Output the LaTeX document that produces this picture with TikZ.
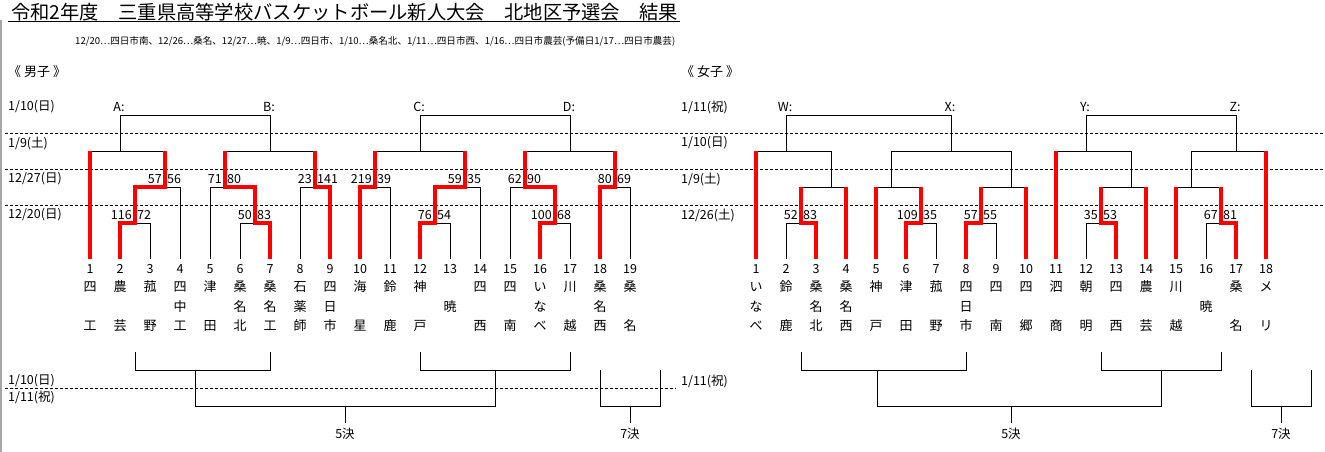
\documentclass[tikz,border=0pt]{standalone}
\usepackage{fontspec}
\setmainfont{Noto Sans CJK JP}
\begin{document}
\begin{tikzpicture}[x=1pt,y=-1pt,
  bk/.style={line width=1pt,black},
  rd/.style={line width=3.3pt,red,line join=miter},
  dsh/.style={line width=0.9pt,dash pattern=on 3pt off 2pt},
  t/.style={inner sep=0pt,font=\fontsize{12.5}{14}\selectfont},
  tc/.style={inner sep=0pt,font=\fontsize{13}{14}\selectfont},
  lab/.style={inner sep=0pt,anchor=west,font=\fontsize{12.5}{14}\selectfont}]
\useasboundingbox[fill=white] (0,0) rectangle (1325,452);
\draw[gray!70,line width=1.5pt] (0.75,20) -- (0.75,452);
% title
\node[inner sep=0pt,anchor=west,font=\fontsize{19.3}{21}\selectfont] (title) at (11,12) {令和2年度　三重県高等学校バスケットボール新人大会　北地区予選会　結果};
\draw[bk] (8,22) -- (680,22);
\node[inner sep=0pt,anchor=west] (sub) at (75,41) {\resizebox{600pt}{!}{\fontsize{9.6}{11}\selectfont 12/20…四日市南、12/26…桑名、12/27…暁、1/9…四日市、1/10…桑名北、1/11…四日市西、1/16…四日市農芸(予備日1/17…四日市農芸)}};
\node[lab,font=\fontsize{13}{14}\selectfont] (boys) at (8,72) {《 男子 》};
\node[lab,font=\fontsize{13}{14}\selectfont] (girls) at (681,72) {《 女子 》};
% date rows
\node[lab] (d1) at (8,107) {1/10(日)};
\node[lab] (d2) at (8,143) {1/9(土)};
\node[lab] (d3) at (8,179) {12/27(日)};
\node[lab] (d4) at (8,215) {12/20(日)};
\node[lab] (e1) at (681,107) {1/11(祝)};
\node[lab] (e2) at (681,143) {1/10(日)};
\node[lab] (e3) at (681,179) {1/9(土)};
\node[lab] (e4) at (681,215) {12/26(土)};
\foreach \yy in {133,169,205} \draw[dsh] (5,\yy) -- (1325,\yy);
% block labels
\node[t] (A) at (119,107) {A:};
\node[t] (B) at (269,107) {B:};
\node[t] (C) at (419,107) {C:};
\node[t] (D) at (569,107) {D:};
\node[t] (W) at (785,107) {W:};
\node[t] (X) at (950,107) {X:};
\node[t] (Y) at (1085,107) {Y:};
\node[t] (Z) at (1235,107) {Z:};
% men teams
\foreach \i/\a/\b/\c in {1/四/{}/工,2/農/{}/芸,3/菰/{}/野,4/四/中/工,5/津/{}/田,6/桑/名/北,7/桑/名/工,8/石/薬/師,9/四/日/市,10/海/{}/星,11/鈴/{}/鹿,12/神/{}/戸,13/{}/暁/{},14/四/{}/西,15/四/{}/南,16/い/な/べ,17/川/{}/越,18/桑/名/西,19/桑/{}/名}{
  \node[t] (mn\i) at ({60+30*\i},269) {\i};
  \node[tc] (ma\i) at ({60+30*\i},287) {\a};
  \node[tc] (mb\i) at ({60+30*\i},307) {\b};
  \node[tc] (mc\i) at ({60+30*\i},326) {\c};
}
% women teams
\foreach \i/\a/\b/\c in {1/い/な/べ,2/鈴/{}/鹿,3/桑/名/北,4/桑/名/西,5/神/{}/戸,6/津/{}/田,7/菰/{}/野,8/四/日/市,9/四/{}/南,10/四/{}/郷,11/泗/{}/商,12/朝/{}/明,13/四/{}/西,14/農/{}/芸,15/川/{}/越,16/{}/暁/{},17/桑/{}/名,18/メ/{}/リ}{
  \node[t] (wn\i) at ({726+30*\i},269) {\i};
  \node[tc] (wa\i) at ({726+30*\i},287) {\a};
  \node[tc] (wb\i) at ({726+30*\i},307) {\b};
  \node[tc] (wc\i) at ({726+30*\i},326) {\c};
}
% men black lines
\foreach \x in {150,240,450,570} \draw[bk] (\x,223) -- (\x,259);
\foreach \x in {180,210,300,390,480,510,630} \draw[bk] (\x,187) -- (\x,259);
\foreach \a/\b in {120/150,240/270,420/450,540/570} \draw[bk] (\a,223) -- (\b,223);
\foreach \a/\b in {135/180,210/255,300/330,360/390,435/480,510/555,600/630} \draw[bk] (\a,187) -- (\b,187);
\foreach \a/\b in {90/165,225/315,375/465,525/615} \draw[bk] (\a,151) -- (\b,151);
\foreach \x in {120,270,420,570} \draw[bk] (\x,151) -- (\x,115);
\draw[bk] (120,115) -- (270,115);
\draw[bk] (420,115) -- (570,115);
% men red lines
\draw[rd] (90,259) -- (90,151);
\draw[rd] (120,259) -- (120,223) -- (135,223) -- (135,187) -- (165,187) -- (165,151);
\draw[rd] (270,259) -- (270,223) -- (255,223) -- (255,187) -- (225,187) -- (225,151);
\draw[rd] (330,259) -- (330,187) -- (315,187) -- (315,151);
\draw[rd] (360,259) -- (360,187) -- (375,187) -- (375,151);
\draw[rd] (420,259) -- (420,223) -- (435,223) -- (435,187) -- (465,187) -- (465,151);
\draw[rd] (540,259) -- (540,223) -- (555,223) -- (555,187) -- (525,187) -- (525,151);
\draw[rd] (600,259) -- (600,187) -- (615,187) -- (615,151);
% men scores
\foreach \x/\yy/\l/\r in {135/215/116/72,255/215/50/83,435/215/76/54,555/215/100/68,165/179/57/56,225/179/71/80,315/179/23/141,375/179/219/39,465/179/59/35,525/179/62/90,615/179/80/69}{
  \node[t,anchor=east] (sl\x) at (\x-3,\yy) {\l};
  \node[t,anchor=west] (sr\x) at (\x+2,\yy) {\r};
}
% women black lines
\foreach \x in {786,936,996,1086,1206} \draw[bk] (\x,223) -- (\x,259);
\foreach \a/\b in {786/816,906/936,966/996,1086/1116,1206/1236} \draw[bk] (\a,223) -- (\b,223);
\foreach \a/\b in {801/846,876/921,981/1026,1101/1146,1176/1221} \draw[bk] (\a,187) -- (\b,187);
\foreach \x in {831,891,1011,1131,1191} \draw[bk] (\x,187) -- (\x,151);
\foreach \a/\b in {756/831,891/1011,1056/1131,1191/1266} \draw[bk] (\a,151) -- (\b,151);
\foreach \x in {786,951,1086,1236} \draw[bk] (\x,151) -- (\x,115);
\draw[bk] (786,115) -- (951,115);
\draw[bk] (1086,115) -- (1236,115);
% women red lines
\draw[rd] (756,259) -- (756,151);
\draw[rd] (816,259) -- (816,223) -- (801,223) -- (801,187);
\draw[rd] (846,259) -- (846,187);
\draw[rd] (876,259) -- (876,187);
\draw[rd] (906,259) -- (906,223) -- (921,223) -- (921,187);
\draw[rd] (966,259) -- (966,223) -- (981,223) -- (981,187);
\draw[rd] (1026,259) -- (1026,187);
\draw[rd] (1056,259) -- (1056,151);
\draw[rd] (1116,259) -- (1116,223) -- (1101,223) -- (1101,187);
\draw[rd] (1146,259) -- (1146,187);
\draw[rd] (1176,259) -- (1176,187);
\draw[rd] (1236,259) -- (1236,223) -- (1221,223) -- (1221,187);
\draw[rd] (1266,259) -- (1266,151);
% women scores
\foreach \x/\yy/\l/\r in {801/215/52/83,921/215/109/35,981/215/57/55,1101/215/35/53,1221/215/67/81}{
  \node[t,anchor=east] (tl\x) at (\x-3,\yy) {\l};
  \node[t,anchor=west] (tr\x) at (\x+2,\yy) {\r};
}
% men placement brackets
\draw[bk] (135,352) -- (135,370) -- (270,370) -- (270,352);
\draw[bk] (420,352) -- (420,370) -- (570,370) -- (570,352);
\draw[bk] (195,370) -- (195,406) -- (495,406) -- (495,370);
\draw[bk] (345,406) -- (345,423);
\node[t] (m5) at (345,434) {5決};
\draw[bk] (600,370) -- (600,406) -- (660,406) -- (660,370);
\draw[bk] (630,406) -- (630,423);
\node[t] (m7) at (630,434) {7決};
\draw[dsh] (5,388.5) -- (676,388.5);
\node[lab] (f1) at (8,381) {1/10(日)};
\node[lab] (f2) at (8,397) {1/11(祝)};
% women placement brackets
\draw[bk] (801,352) -- (801,370) -- (966,370) -- (966,352);
\draw[bk] (1101,352) -- (1101,370) -- (1221,370) -- (1221,352);
\draw[bk] (877,370) -- (877,406) -- (1161,406) -- (1161,370);
\draw[bk] (1011,406) -- (1011,423);
\node[t] (w5) at (1011,434) {5決};
\draw[bk] (1251,370) -- (1251,406) -- (1311,406) -- (1311,370);
\draw[bk] (1281,406) -- (1281,423);
\node[t] (w7) at (1281,434) {7決};
\node[lab] (g1) at (681,381) {1/11(祝)};
\end{tikzpicture}
\end{document}
